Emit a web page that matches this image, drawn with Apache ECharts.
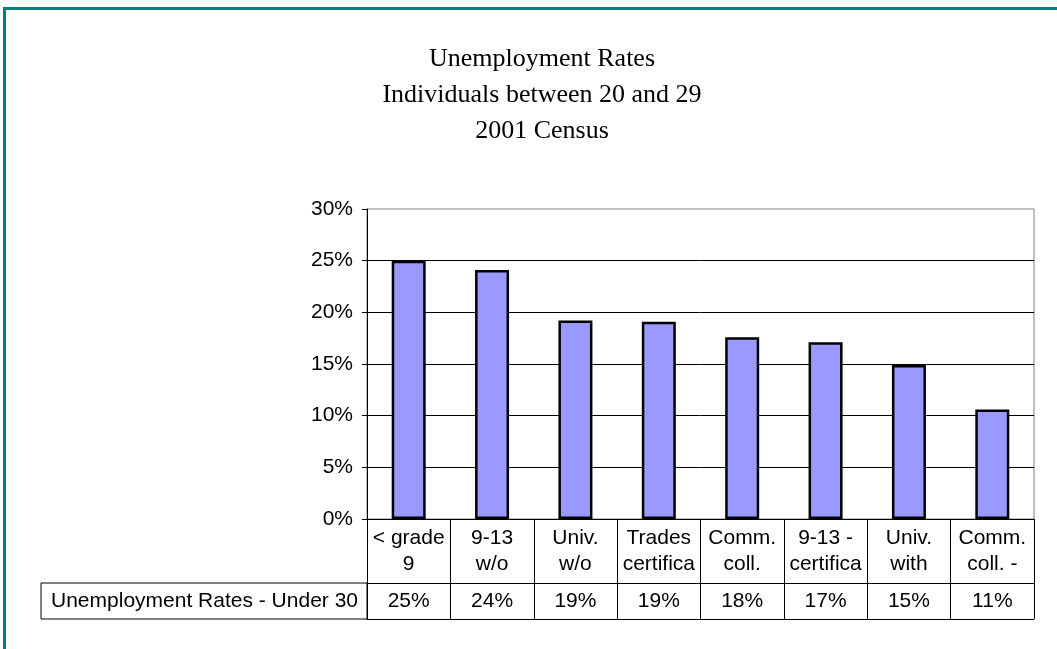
<!DOCTYPE html>
<html>
<head>
<meta charset="utf-8">
<script src="https://cdn.jsdelivr.net/npm/echarts@6/dist/echarts.min.js"></script>
<style>
html, body { margin: 0; padding: 0; background: #fff; }
#main { width: 1057px; height: 649px; }
</style>
</head>
<body>
<div id="main"></div>
<script>
// categories as printed under the bars (already cut off in the source)
const categories = ['< grade\n9', '9-13\nw/o', 'Univ.\nw/o', 'Trades\ncertifica', 'Comm.\ncoll.', '9-13 -\ncertifica', 'Univ.\nwith', 'Comm.\ncoll. -']
const rates = [0.25, 0.241, 0.192, 0.191, 0.176, 0.171, 0.149, 0.106]
const yTicks = [0, 0.05, 0.1, 0.15, 0.2, 0.25, 0.3]
const seriesName = 'Unemployment Rates - Under 30'

const font = 'Liberation Sans, Arial, sans-serif'
const rateLabels = rates.map(v => Math.round(v * 100) + '%')

let myChart = echarts.init(document.getElementById('main'))
let option = {
    animation: false,
    title: {
        text: 'Unemployment Rates\nIndividuals between 20 and 29\n2001 Census',
        left: 537,
        top: 36,
        textAlign: 'center',
        textStyle: {
            fontFamily: 'Liberation Serif, Times New Roman, serif',
            fontWeight: 'normal',
            fontSize: 26,
            lineHeight: 36,
            color: '#000'
        }
    },
    graphic: [
        {
            type: 'rect',
            shape: { x: 4.5, y: 8.5, width: 1100, height: 700 },
            style: { fill: 'none', stroke: '#008080', lineWidth: 3 },
            silent: true
        }
    ],
    grid: {
        left: 367,
        right: 23,
        top: 209,
        bottom: 130,
        show: true,
        borderColor: '#808080',
        borderWidth: 1
    },
    xAxis: [
        {
            type: 'category',
            data: categories,
            axisLine: { lineStyle: { color: '#000', width: 1 } },
            axisTick: { show: true, length: 100, lineStyle: { color: '#000' } },
            axisLabel: {
                interval: 0,
                margin: 6,
                fontFamily: font,
                fontSize: 21,
                lineHeight: 26,
                color: '#000'
            }
        },
        {
            type: 'category',
            data: rateLabels,
            position: 'bottom',
            offset: 64,
            axisLine: { lineStyle: { color: '#000', width: 1 } },
            axisTick: { show: false },
            axisLabel: {
                interval: 0,
                margin: 8,
                fontFamily: font,
                fontSize: 21,
                color: '#000'
            },
            name: seriesName,
            nameLocation: 'start',
            nameGap: 0,
            nameTextStyle: {
                fontFamily: font,
                fontSize: 21,
                color: '#000',
                align: 'right',
                verticalAlign: 'top',
                height: 36,
                lineHeight: 36,
                padding: [0, 9, 0, 10],
                borderColor: '#000',
                borderWidth: 1
            }
        },
        {
            type: 'category',
            data: categories,
            position: 'bottom',
            offset: 100,
            axisLine: { lineStyle: { color: '#000', width: 1 } },
            axisTick: { show: false },
            axisLabel: { show: false }
        }
    ],
    yAxis: {
        type: 'value',
        min: yTicks[0],
        max: yTicks[yTicks.length - 1],
        interval: yTicks[1] - yTicks[0],
        axisLine: { show: true, lineStyle: { color: '#000' } },
        axisTick: { show: true, length: 5, lineStyle: { color: '#000' } },
        splitLine: { showMaxLine: false, lineStyle: { color: '#000', width: 1 } },
        axisLabel: {
            margin: 14,
            fontFamily: font,
            fontSize: 21,
            color: '#000',
            formatter: v => Math.round(v * 100) + '%'
        }
    },
    series: [
        {
            name: seriesName,
            type: 'bar',
            data: rates,
            barWidth: 34,
            itemStyle: {
                color: '#9999FF',
                borderColor: '#000',
                borderWidth: 2.5
            }
        }
    ]
}
myChart.setOption(option)
</script>
</body>
</html>
